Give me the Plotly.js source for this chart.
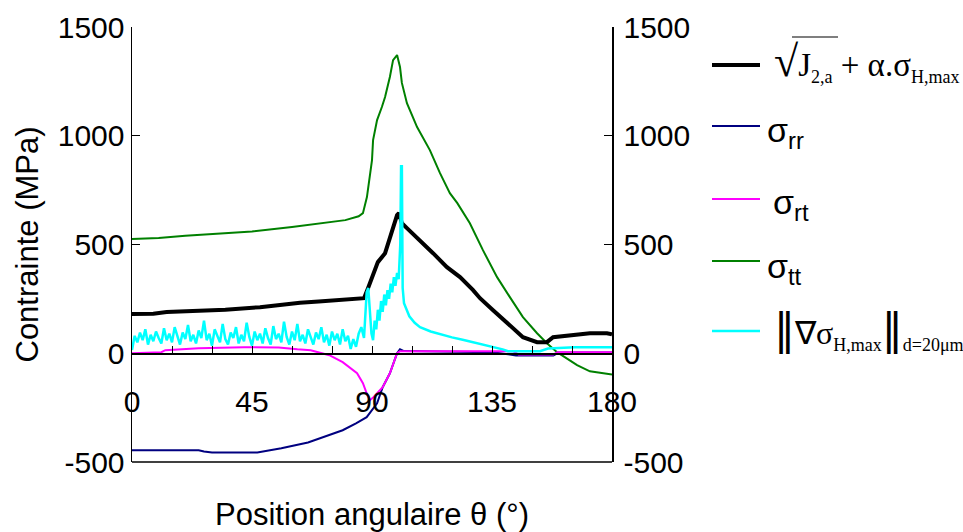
<!DOCTYPE html>
<html><head><meta charset="utf-8">
<script src="https://cdn.plot.ly/plotly-3.0.1.min.js"></script>
<style>html,body{margin:0;padding:0;background:#fff}#chart{width:963px;height:532px}</style>
</head><body><div id="chart"></div>
<script>
// ---- data (angle in degrees, stress in MPa) ----
const xTickVals = [0,15,30,45,60,75,90,105,120,135,150,165,180];
const xTickText = ['0','','','45','','','90','','','135','','','180'];
const yTickVals = [-500,0,500,1000,1500];
const yTickText = ['-500','0','500','1000','1500'];

const thetaJ = [0,8,13,25,35,48,55,63,70,78,84,87,88.5,90.4,92.2,94.9,96.7,97.9,99.4,100.1,101.2,103.1,108,112.9,118.1,123,127.9,130.5,135.4,140.6,146.6,151.9,155.6,157.9,165.4,171.7,178.1,180];
const valJ   = [180,182,190,193,200,212,222,232,238,244,248,253,299,368,419,460,534,580,635,644,598,575,520,460,396,350,290,253,198,138,74,51,51,74,83,92,92,87];

const thetaRR = [0,25,27,30,47,56,66,74,79,84,88,91.9,94,96.7,99.4,100.5,102,115,135,144,158,160,180];
const valRR   = [-446,-446,-452,-456,-456,-437,-410,-377,-354,-322,-294,-230,-156,-92,0,18,10,8,5,-10,-10,3,3];

const thetaRT = [0,11,12.5,25,42,55,62,67,74,79,84.4,86.6,88,89.2,90.3,91.9,94,96.7,99.4,100.5,143,145,158,159.5,180];
const valRT   = [0,5,14,23,28,26,18,14,-9,-41,-92,-138,-184,-216,-205,-184,-156,-92,0,9,9,-6,-6,5,5];

const thetaTT = [0,10,20,30,45,60,70,80,85,86.6,88.1,90,90.4,91.9,93.7,94.9,96.7,97.9,99.4,100.5,101.2,103.1,106.9,111.7,115.5,119.2,122,126.7,131.6,136.9,141.7,146.6,151.9,155.6,159.4,163.1,166.9,171.7,178.9,180];
const valTT   = [525,530,540,548,560,580,595,612,630,644,718,888,980,1072,1132,1178,1270,1348,1371,1316,1243,1150,1040,934,828,736,690,598,474,350,258,166,92,46,5,-23,-55,-83,-97,-98];

const thetaGrad = [0,1,2,3,4,5,6,7,8,9,10,11,12,13,14,15,16,17,18,19,20,21,22,23,24,25,26,27,28,29,30,31,32,33,34,35,36,37,38,39,40,41,42,43,44,45,46,47,48,49,50,51,52,53,54,55,56,57,58,59,60,61,62,63,64,65,66,67,68,69,70,71,72,73,74,75,76,77,78,79,80,81,82,83,84,85,86,87,88,88.6,89.2,89.8,90.4,91,91.6,92.2,92.8,93.4,94,94.6,95.2,95.8,96.4,97,97.6,98.2,98.8,99.4,100,100.6,100.9,101.2,101.5,102,103,104,106,108,112,116,120,124,128,132,136,139,141,153,156,160,166,180];
const valGrad   = [15,80,50,95,60,110,40,85,55,100,70,45,115,60,90,50,120,75,40,95,65,130,55,85,45,105,70,150,60,90,35,110,80,50,135,65,40,95,70,120,45,85,55,140,75,35,100,60,90,45,115,70,40,125,65,90,50,145,75,40,100,60,135,55,85,45,110,70,40,95,65,120,50,85,35,100,60,90,40,110,55,80,20,65,30,90,120,70,280,300,180,90,60,150,110,200,150,240,190,270,220,290,250,320,280,350,310,370,340,500,860,860,300,230,200,170,140,120,100,85,73,62,50,38,28,18,9,9,22,25,28,28];

// ---- layout helpers (pixel -> paper) ----
const L = 132, R = 612, T = 27, B = 462;
const px = x => (x - L) / (R - L);
const py = y => (B - y) / (B - T);

const traces = [
  {x: thetaTT, y: valTT, name: 'σtt', mode: 'lines', line: {color: '#008000', width: 2}},
  {x: thetaGrad, y: valGrad, name: '‖∇σH,max‖d=20μm', mode: 'lines', line: {color: '#00ffff', width: 2.5}, yaxis: 'y2'},
  {x: thetaRR, y: valRR, name: 'σrr', mode: 'lines', line: {color: '#000080', width: 2}},
  {x: thetaRT, y: valRT, name: 'σrt', mode: 'lines', line: {color: '#ff00ff', width: 2}},
  {x: thetaJ, y: valJ, name: '√J2,a + α.σH,max', mode: 'lines', line: {color: '#000000', width: 4}}
];

const tickFont = {family: 'Liberation Sans, Arial, sans-serif', size: 30, color: '#000'};
const SERIF = 'Liberation Serif, Times New Roman, serif';
const SANS = 'Liberation Sans, Arial, sans-serif';
const sub = t => '<sub><span style="font-size:18px">' + t + '</span></sub>';
const bigBar = '<span style="font-family:DejaVu Sans;font-size:42px">‖</span>';

const legendItems = [
  {y: 65, color: '#000000', w: 4, text: '<span style="font-size:44px">√</span>J' + sub('2,a') + ' + α.σ' + sub('H,max'), fx: 772, fy: 62, font: SERIF, fs: 33},
  {y: 126, color: '#000080', w: 2, text: 'σ<sub>rr</sub>', fx: 765, fy: 132, font: SANS, fs: 34},
  {y: 199, color: '#ff00ff', w: 2, text: 'σ<sub>rt</sub>', fx: 771, fy: 205, font: SANS, fs: 34},
  {y: 261, color: '#008000', w: 2, text: 'σ<sub>tt</sub>', fx: 765, fy: 268, font: SANS, fs: 34},
  {y: 331, color: '#00ffff', w: 2.5, text: bigBar + '∇σ' + sub('H,max') + bigBar + sub('d=20μm'), fx: 772, fy: 330, font: SERIF, fs: 32}
];

const shapes = [
  {type: 'line', xref: 'paper', yref: 'paper', x0: 0, x1: 1, y0: 0, y1: 0, line: {color: '#000', width: 1.5}}
];
const annotations = [];
legendItems.forEach(it => {
  shapes.push({type: 'line', xref: 'paper', yref: 'paper', x0: px(712), x1: px(760), y0: py(it.y), y1: py(it.y), line: {color: it.color, width: it.w}});
  annotations.push({xref: 'paper', yref: 'paper', x: px(it.fx), y: py(it.fy), xanchor: 'left', yanchor: 'middle', showarrow: false, text: it.text, font: {family: it.font, size: it.fs, color: '#000'}});
});
// overline of the square root
shapes.push({type: 'line', xref: 'paper', yref: 'paper', x0: px(792), x1: px(838), y0: py(37), y1: py(37), line: {color: '#000', width: 1.2}});

const layout = {
  width: 963, height: 532,
  margin: {l: L, r: 963 - R, t: T, b: 532 - B},
  paper_bgcolor: '#fff', plot_bgcolor: '#fff',
  showlegend: false,
  xaxis: {
    range: [0, 180], anchor: 'free', position: 0.25,
    tickvals: xTickVals, ticktext: xTickText,
    ticks: 'inside', ticklen: 7, tickwidth: 1, tickcolor: '#000',
    showline: true, linecolor: '#000', linewidth: 1.5,
    showgrid: false, zeroline: false,
    tickfont: tickFont, ticklabelstandoff: 21,
    title: {text: 'Position angulaire θ (°)', font: {family: SANS, size: 31, color: '#000'}, standoff: 96}
  },
  yaxis: {
    range: [-500, 1500], anchor: 'x', side: 'left',
    tickvals: yTickVals, ticktext: yTickText,
    ticks: 'inside', ticklen: 8, tickwidth: 1, tickcolor: '#000',
    showline: true, linecolor: '#000', linewidth: 1.5,
    showgrid: false, zeroline: false,
    tickfont: tickFont,
    title: {text: 'Contrainte (MPa)', font: {family: SANS, size: 31, color: '#000'}, standoff: 10}
  },
  yaxis2: {
    range: [-500, 1500], overlaying: 'y', anchor: 'x', side: 'right',
    tickvals: yTickVals, ticktext: yTickText,
    ticks: 'inside', ticklen: 8, tickwidth: 1, tickcolor: '#000',
    showline: true, linecolor: '#000', linewidth: 1.5,
    showgrid: false, zeroline: false,
    tickfont: tickFont, ticklabelstandoff: 4
  },
  shapes: shapes,
  annotations: annotations
};

Plotly.newPlot('chart', traces, layout, {displayModeBar: false, staticPlot: true});
</script></body></html>
